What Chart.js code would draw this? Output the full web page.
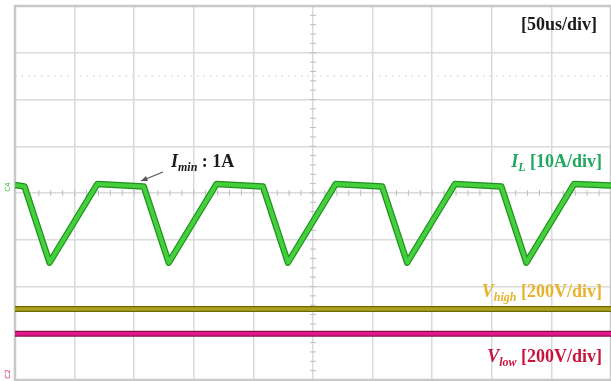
<!DOCTYPE html>
<html>
<head>
<meta charset="utf-8">
<script src="https://cdn.jsdelivr.net/npm/chart.js@4.4.1/dist/chart.umd.min.js"></script>
<style>
  html, body { margin: 0; padding: 0; background: #fff; }
</style>
</head>
<body>
<canvas id="scope" width="611" height="381"></canvas>
<script>
// time base: 50 us/div over 10 divisions
const timeTicks = [0, 50, 100, 150, 200, 250, 300, 350, 400, 450, 500];

// inductor current corners (us / A)
const iTime = [0, 8, 29, 69, 108, 129, 169, 208, 229, 269, 308, 329, 369, 408, 429, 469, 500];
const iL    = [1.3, 1.0, -15.3, 1.5, 1.0, -15.3, 1.5, 1.0, -15.3, 1.5, 1.0, -15.3, 1.5, 1.0, -15.3, 1.5, 1.2];

// dc voltages (V)
const vTime = [0, 500];
const vHigh = [400, 400];
const vLow  = [190, 190];

// per-channel scale (units/div) and ground position (div from centre)
const iScale = 10, iPos = 0.04;
const vScale = 200, vHighPos = -4.48, vLowPos = -3.96;

const serif = '"Liberation Serif", "Times New Roman", serif';

const pts = (xs, ys) => xs.map((x, i) => ({ x: x, y: ys[i] }));
const range = (scale, pos) => ({ min: (-4 - pos) * scale, max: (4 - pos) * scale });

// first dataset in the list ends up on top, so the bright core goes before its dark edge
const trace = (data, axis, color, width) => ({
  data: data,
  yAxisID: axis,
  borderColor: color,
  borderWidth: width,
  pointRadius: 0,
  tension: 0,
  borderJoinStyle: 'round'
});

// draw a run of text pieces (mixed italic / subscript) on one baseline
function richText(ctx, parts, x, y, align, color) {
  let total = 0;
  parts.forEach(p => { ctx.font = p.font; total += ctx.measureText(p.text).width; });
  let cx = align === 'right' ? x - total : x;
  ctx.fillStyle = color;
  ctx.textAlign = 'left';
  ctx.textBaseline = 'alphabetic';
  parts.forEach(p => {
    ctx.font = p.font;
    ctx.fillText(p.text, cx, y + (p.dy || 0));
    cx += ctx.measureText(p.text).width;
  });
}

const scopeDecor = {
  id: 'scopeDecor',
  beforeDatasetsDraw(chart) {
    const { ctx, chartArea: ca, scales } = chart;
    const cx = scales.x.getPixelForValue(250);
    const cy = scales.y.getPixelForValue(0);
    ctx.save();

    // dotted reference level
    ctx.strokeStyle = '#dcdcdc';
    ctx.lineWidth = 1.5;
    ctx.setLineDash([1.5, 5]);
    const ry = scales.y.getPixelForValue(2.5);
    ctx.beginPath();
    ctx.moveTo(ca.left, ry);
    ctx.lineTo(ca.right, ry);
    ctx.stroke();
    ctx.setLineDash([]);

    // minor ticks on the centre cross
    ctx.strokeStyle = '#bdbdbd';
    ctx.lineWidth = 1;
    ctx.beginPath();
    for (let t = 0; t <= 500; t += 10) {
      const x = scales.x.getPixelForValue(t);
      ctx.moveTo(x, cy - 3);
      ctx.lineTo(x, cy + 3);
    }
    for (let d = -4; d <= 4.001; d += 0.2) {
      const y = scales.y.getPixelForValue(d);
      ctx.moveTo(cx - 3, y);
      ctx.lineTo(cx + 3, y);
    }
    ctx.stroke();

    // outer frame
    ctx.strokeStyle = '#c8c8c8';
    ctx.lineWidth = 2.5;
    ctx.strokeRect(ca.left, ca.top, ca.width, ca.height);
    ctx.restore();
  },
  afterDatasetsDraw(chart) {
    const { ctx } = chart;
    ctx.save();

    richText(ctx, [{ text: '[50us/div]', font: 'bold 18px ' + serif }], 597, 30, 'right', '#1a1a1a');

    richText(ctx, [
      { text: 'I', font: 'italic bold 18px ' + serif },
      { text: 'min', font: 'italic bold 12px ' + serif, dy: 4 },
      { text: ' : 1A', font: 'bold 18px ' + serif }
    ], 171, 167, 'left', '#1a1a1a');

    // arrow to the flat top
    ctx.strokeStyle = '#555';
    ctx.fillStyle = '#555';
    ctx.lineWidth = 1.2;
    const ax0 = 163, ay0 = 172, ax1 = 141, ay1 = 181;
    ctx.beginPath();
    ctx.moveTo(ax0, ay0);
    ctx.lineTo(ax1, ay1);
    ctx.stroke();
    const ang = Math.atan2(ay1 - ay0, ax1 - ax0);
    ctx.beginPath();
    ctx.moveTo(ax1, ay1);
    ctx.lineTo(ax1 - 7 * Math.cos(ang - 0.4), ay1 - 7 * Math.sin(ang - 0.4));
    ctx.lineTo(ax1 - 7 * Math.cos(ang + 0.4), ay1 - 7 * Math.sin(ang + 0.4));
    ctx.closePath();
    ctx.fill();

    richText(ctx, [
      { text: 'I', font: 'italic bold 18px ' + serif },
      { text: 'L', font: 'italic bold 12px ' + serif, dy: 4 },
      { text: ' [10A/div]', font: 'bold 18px ' + serif }
    ], 602, 167, 'right', '#20a85e');

    richText(ctx, [
      { text: 'V', font: 'italic bold 18px ' + serif },
      { text: 'high', font: 'italic bold 12px ' + serif, dy: 4 },
      { text: ' [200V/div]', font: 'bold 18px ' + serif }
    ], 602, 297, 'right', '#e6b32e');

    richText(ctx, [
      { text: 'V', font: 'italic bold 18px ' + serif },
      { text: 'low', font: 'italic bold 12px ' + serif, dy: 4 },
      { text: ' [200V/div]', font: 'bold 18px ' + serif }
    ], 602, 362, 'right', '#c8143c');

    // channel ground markers
    ctx.font = '7px "DejaVu Sans", sans-serif';
    ctx.textAlign = 'center';
    ctx.textBaseline = 'middle';
    ctx.save();
    ctx.translate(8, 187);
    ctx.rotate(-Math.PI / 2);
    ctx.fillStyle = '#33c033';
    ctx.fillText('C4', 0, 0);
    ctx.restore();
    ctx.save();
    ctx.translate(8, 374);
    ctx.rotate(-Math.PI / 2);
    ctx.fillStyle = '#d0186e';
    ctx.fillText('C2', 0, 0);
    ctx.restore();

    ctx.restore();
  }
};

const gridOpts = { color: '#dadada', lineWidth: 1.5, drawTicks: false };

new Chart(document.getElementById('scope'), {
  type: 'line',
  data: {
    datasets: [
      trace(pts(iTime, iL), 'yI', '#46cf3c', 4),
      trace(pts(iTime, iL), 'yI', '#1c931c', 6.5),
      trace(pts(vTime, vHigh), 'yVh', '#aaa21c', 3.5),
      trace(pts(vTime, vHigh), 'yVh', '#6e6800', 6),
      trace(pts(vTime, vLow), 'yVl', '#e0188a', 3.5),
      trace(pts(vTime, vLow), 'yVl', '#8c0c4c', 6)
    ]
  },
  options: {
    responsive: false,
    animation: false,
    devicePixelRatio: 1,
    layout: { padding: { left: 15, top: 6, right: 0, bottom: 1 } },
    plugins: { legend: { display: false }, tooltip: { enabled: false } },
    scales: {
      x: {
        type: 'linear',
        min: timeTicks[0],
        max: timeTicks[timeTicks.length - 1],
        afterBuildTicks: s => { s.ticks = timeTicks.map(v => ({ value: v })); },
        ticks: { display: false },
        grid: gridOpts,
        border: { display: false }
      },
      y: {
        min: -4,
        max: 4,
        ticks: { display: false, stepSize: 1 },
        grid: gridOpts,
        border: { display: false }
      },
      yI: Object.assign({ display: false }, range(iScale, iPos)),
      yVh: Object.assign({ display: false }, range(vScale, vHighPos)),
      yVl: Object.assign({ display: false }, range(vScale, vLowPos))
    }
  },
  plugins: [scopeDecor]
});
</script>
</body>
</html>
